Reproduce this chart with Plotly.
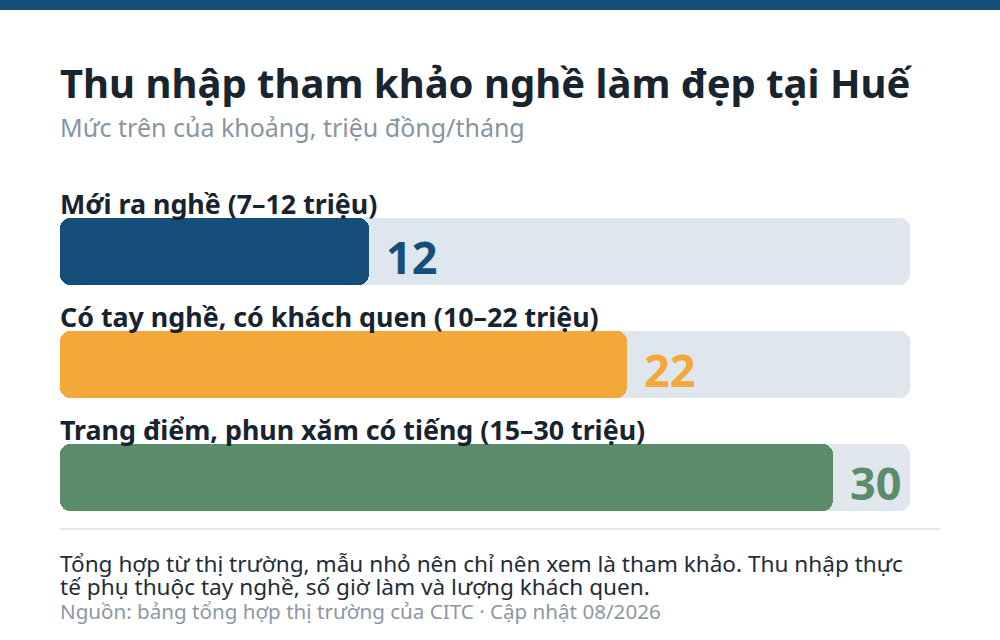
import plotly.graph_objects as go

# data
categories = [
    "Mới ra nghề (7–12 triệu)",
    "Có tay nghề, có khách quen (10–22 triệu)",
    "Trang điểm, phun xăm có tiếng (15–30 triệu)",
]
upper_values = [12, 22, 30]
bar_colors = ["#154f79", "#f4a83a", "#5b8c6b"]
track_max = 33

TITLE = "Thu nhập tham khảo nghề làm đẹp tại Huế"
SUBTITLE = "Mức trên của khoảng, triệu đồng/tháng"
NOTE_LINES = [
    "Tổng hợp từ thị trường, mẫu nhỏ nên chỉ nên xem là tham khảo. Thu nhập thực",
    "tế phụ thuộc tay nghề, số giờ làm và lượng khách quen.",
]
SOURCE = "Nguồn: bảng tổng hợp thị trường của CITC · Cập nhật 08/2026"

FONT = "Noto Sans"
W, H = 1000, 640
rows = list(range(len(categories)))


def py(px):
    return 1 - px / H


fig = go.Figure()
# an explicit base makes plotly round both ends of the bar
fig.add_trace(go.Bar(
    y=rows, x=[track_max] * len(rows), base=[0] * len(rows), orientation="h",
    marker=dict(color="#dfe6ed", cornerradius=10, line_width=0),
    width=0.593, hoverinfo="skip", showlegend=False,
))
fig.add_trace(go.Bar(
    y=rows, x=upper_values, base=[0] * len(rows), orientation="h",
    marker=dict(color=bar_colors, cornerradius=10, line_width=0),
    width=0.593, showlegend=False,
    hovertemplate="%{x} triệu<extra></extra>",
))

for i, (cat, val, col) in enumerate(zip(categories, upper_values, bar_colors)):
    fig.add_annotation(
        x=0, y=i, xref="x", yref="y", text=f"<b>{cat}</b>",
        xanchor="left", yanchor="middle", yshift=48, xshift=-2, showarrow=False,
        font=dict(family=FONT, size=26.8, color="#17232f"),
    )
    fig.add_annotation(
        x=val, y=i, xref="x", yref="y", text=f"<b>{val}</b>",
        xanchor="left", yanchor="middle", xshift=15, yshift=-5, showarrow=False,
        font=dict(family=FONT, size=45, color=col),
    )

fig.add_annotation(x=0.058, y=py(82), xref="paper", yref="paper", text=f"<b>{TITLE}</b>",
                   xanchor="left", yanchor="middle", showarrow=False,
                   font=dict(family=FONT, size=40, color="#18242f"))
fig.add_annotation(x=0.058, y=py(127), xref="paper", yref="paper", text=SUBTITLE,
                   xanchor="left", yanchor="middle", showarrow=False,
                   font=dict(family=FONT, size=25, color="#8795a3"))
for line, ypx in zip(NOTE_LINES, [563, 586]):
    fig.add_annotation(x=0.058, y=py(ypx), xref="paper", yref="paper", text=line,
                       xanchor="left", yanchor="middle", showarrow=False,
                       font=dict(family=FONT, size=22.6, color="#1f2d3a"))
fig.add_annotation(x=0.058, y=py(611), xref="paper", yref="paper", text=SOURCE,
                   xanchor="left", yanchor="middle", showarrow=False,
                   font=dict(family=FONT, size=20.6, color="#8c98a5"))

# top band and separator
fig.add_shape(type="rect", xref="paper", yref="paper", x0=0, x1=1, y0=py(10), y1=1,
              fillcolor="#164f78", line_width=0, layer="above")
fig.add_shape(type="line", xref="paper", yref="paper", x0=0.06, x1=0.94, y0=py(529), y1=py(529),
              line=dict(color="#e1e5ea", width=2))

fig.update_layout(
    width=W, height=H,
    margin=dict(l=0, r=0, t=0, b=0),
    paper_bgcolor="white", plot_bgcolor="white",
    barmode="overlay", bargap=0,
    xaxis=dict(range=[0, track_max], domain=[0.06, 0.91], visible=False, fixedrange=True),
    yaxis=dict(range=[2.5, -0.5], domain=[py(534), py(195)], visible=False, fixedrange=True),
    font=dict(family=FONT),
)

fig.write_html("out.html", config={"displayModeBar": False},
               post_script="document.body.style.margin = '0';")
